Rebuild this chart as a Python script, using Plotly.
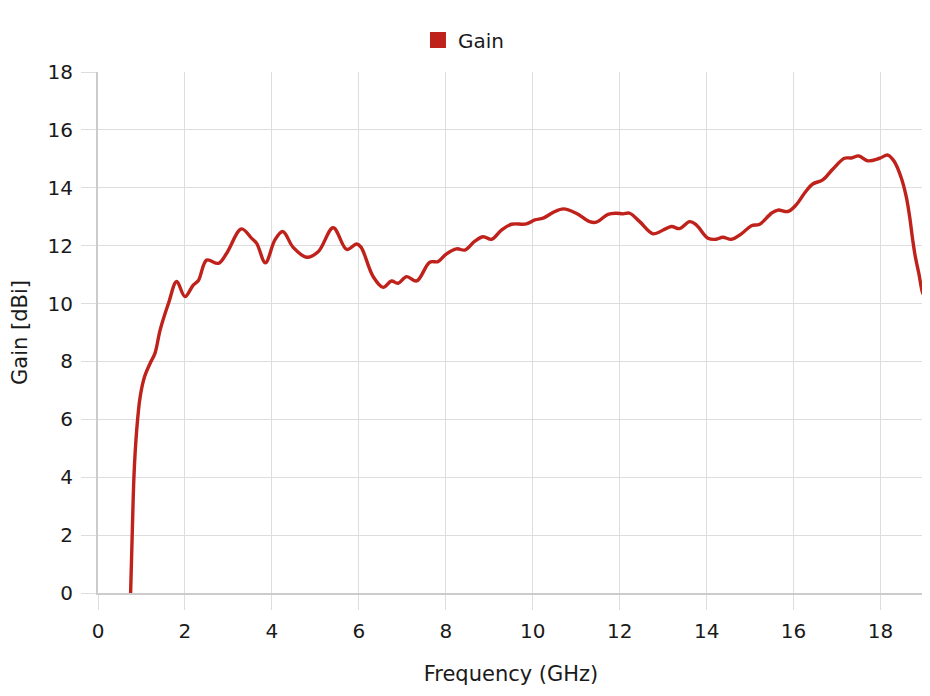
import plotly.graph_objects as go

freq_ghz = [0.75, 0.79, 0.83, 0.89, 0.97, 1.07, 1.20, 1.31, 1.43, 1.62, 1.81, 2.00, 2.19, 2.31, 2.50,
            2.77, 2.96, 3.30, 3.53, 3.65, 3.85, 4.07, 4.25, 4.49, 4.80, 5.07, 5.41, 5.72, 5.95,
            6.05, 6.33, 6.56, 6.75, 6.90, 7.10, 7.33, 7.63, 7.82, 8.01, 8.25, 8.44, 8.67, 8.86,
            9.05, 9.28, 9.51, 9.85, 10.05, 10.24, 10.47, 10.71, 11.00, 11.31, 11.46, 11.73, 11.92,
            12.08, 12.23, 12.46, 12.77, 13.00, 13.19, 13.38, 13.61, 13.76, 14.03, 14.22, 14.37,
            14.57, 14.80, 15.03, 15.22, 15.49, 15.64, 15.87, 16.06, 16.25, 16.44, 16.67, 16.90,
            17.17, 17.33, 17.50, 17.71, 17.98, 18.17, 18.32, 18.48, 18.59, 18.67, 18.74, 18.80,
            18.88, 18.97, 19.0]
gain_dbi = [0.0, 2.18, 4.13, 5.63, 6.78, 7.47, 7.94, 8.28, 9.09, 10.0, 10.76, 10.24, 10.64, 10.8, 11.5,
            11.39, 11.74, 12.58, 12.26, 12.08, 11.41, 12.2, 12.49, 11.94, 11.6, 11.8, 12.62, 11.87, 12.06,
            11.95, 10.93, 10.56, 10.78, 10.7, 10.93, 10.78, 11.43, 11.45, 11.71, 11.89, 11.85, 12.16, 12.31,
            12.22, 12.54, 12.74, 12.75, 12.89, 12.95, 13.15, 13.27, 13.12, 12.83, 12.81, 13.08, 13.12,
            13.1, 13.12, 12.83, 12.41, 12.54, 12.66, 12.59, 12.83, 12.72, 12.26, 12.22, 12.29,
            12.22, 12.41, 12.69, 12.74, 13.12, 13.23, 13.18, 13.41, 13.81, 14.13, 14.27, 14.64,
            15.02, 15.03, 15.1, 14.93, 15.02, 15.13, 14.9, 14.33, 13.7, 13.0, 12.2, 11.62,
            11.05, 10.36, 10.3]

x_ticks = [0, 2, 4, 6, 8, 10, 12, 14, 16, 18]
y_ticks = [0, 2, 4, 6, 8, 10, 12, 14, 16, 18]

RED = "#bf211b"
FONT = "DejaVu Sans"

fig = go.Figure()
fig.add_trace(go.Scatter(x=freq_ghz, y=gain_dbi, mode="lines", name="Gain",
                         line=dict(color=RED, width=3.4, shape="spline", smoothing=1.0),
                         showlegend=False, hoverinfo="x+y"))
fig.add_trace(go.Scatter(x=[None], y=[None], mode="markers", name="Gain",
                         marker=dict(symbol="square", size=20, color=RED)))

# the page body has an 8px default margin, so the figure is sized to fit the window
fig.update_layout(
    width=922, height=688,
    paper_bgcolor="white", plot_bgcolor="white",
    margin=dict(l=90, r=6, t=64, b=103, autoexpand=False),
    font=dict(family=FONT, size=19, color="#1a1a1a"),
    legend=dict(orientation="h", xref="container", x=0.494, xanchor="center",
                yref="container", y=0.9535, yanchor="middle", font=dict(size=20)),
    xaxis=dict(range=[0, 19], tickvals=x_ticks, showgrid=True, gridcolor="#dddddd", gridwidth=1,
               showline=True, linecolor="#cccccc", linewidth=2, ticks="outside", ticklen=15,
               tickcolor="#dddddd", zeroline=False, tickfont=dict(size=20), ticklabelstandoff=4,
               title=dict(text="Frequency (GHz)", standoff=24, font=dict(size=21))),
    yaxis=dict(range=[0, 18], tickvals=y_ticks, showgrid=True, gridcolor="#dddddd", gridwidth=1,
               showline=True, linecolor="#cccccc", linewidth=2, ticks="outside", ticklen=15,
               tickcolor="#dddddd", zeroline=False, tickfont=dict(size=20), ticklabelstandoff=4,
               title=dict(text="Gain [dBi]", standoff=22, font=dict(size=21))),
)

fig.write_html("out.html")
